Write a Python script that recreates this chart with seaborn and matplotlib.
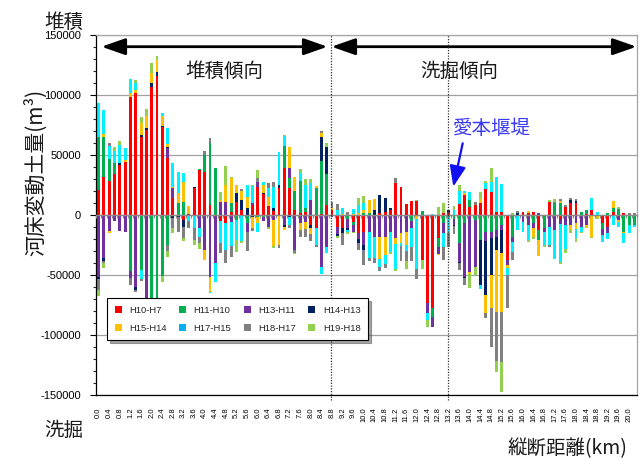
import numpy as np
import matplotlib
matplotlib.use("Agg")
import matplotlib.pyplot as plt
from matplotlib.ticker import MultipleLocator, FuncFormatter
from matplotlib.patches import Patch
import seaborn as sns

# 縦断距離 (km): 0.0 - 20.2 km every 0.2 km
km = np.round(np.arange(0, 20.21, 0.2), 1)
km_labels = [f"{v:.1f}" for v in km]

# 河床変動土量 per period (thousand m3)
h10_h7 = [20.8, 31.4, 28.3, 33.9, 41.7, 44.5, 98.7, 101.5, 64.8, 70.9,
          106.5, 116.0, 73.1, 47.8, 14.5, 0, -4.0, 0, 22.2, 37.5,
          36.0, 8.3, 0, -5.0, -7.0, 2.8, 11.1, 4.2, 0, 8.3,
          23.6, 17.5, 7.5, 3.3, 22.2, 39.5, 22.8, 4.2, 2.0, 2.8,
          -8.0, -11.0, 0.5, 8.3, 4.2, -9.7, -11.0, 0, -5.6, -15.0,
          -14.0, 0, 0, 2.0, 2.8, 4.2, 27.0, 23.6, 9.2, 12.0,
          11.5, -37.5, -73.7, -77.8, -19.5, 1.4, 2.5, 0, 8.9, 17.0,
          6.4, 8.3, 9.7, 21.4, 19.5, 2.8, 2.8, -37.5, 0, 0,
          2.8, 2.0, 2.5, -12.5, 0, 11.1, 0, -3.0, 7.0, 10.3,
          10.3, 0, 1.0, 4.2, 0, -7.0, -9.7, 2.8, 0, 2.0,
          0, 0]
h11_h10 = [43.9, 33.4, 18.0, 9.2, 0, 0, -46.4, 0, -46.0, 0,
           -78.0, -80.0, -51.0, -25.0, 0, 9.7, 11.1, 0, 0, 0.8,
           13.9, 51.4, 38.9, 0, 0, 7.0, -4.2, 0, -7.0, 0,
           -2.0, -2.0, 0, 0, 0, 18.0, 7.8, 16.1, 26.7, 3.3,
           0, 22.2, 44.5, 25.6, 0, 0, 0, -3.0, -2.8, 0,
           1.5, 1.5, 0, 0, 0, 0, 0, 0, 0, -5.0,
           0, 3.0, 0, -7.0, -7.0, -7.0, -2.0, -3.0, -23.0, -6.4,
           6.1, -4.0, -21.0, -13.9, -13.9, -12.5, -8.3, 0, -18.0, 0,
           0, 0, -7.0, -8.0, -11.1, 0, 9.7, 9.7, 0, 0,
           0, 2.8, 3.0, 0, 0, -5.0, 1.4, 2.8, 4.7, -14.0,
           -8.3, -8.3]
h13_h11 = [-51.4, -36.1, -13.0, -4.7, -13.0, -13.9, -6.4, -60.0, 0, -72.0,
           0, 0, 0, 7.8, 7.8, 0, 0, 0.6, 0, -11.0,
           -29.0, -52.0, -40.3, 11.1, 11.1, -5.5, 0, 0, -7.0, 2.0,
           4.2, -3.0, -10.0, -4.0, 0, -8.3, 8.9, -29.0, -7.0, -6.0,
           12.5, 0, -43.0, -26.4, -1.5, -6.0, 0, -8.0, -5.6, -5.0,
           -11.0, -14.0, -18.0, -18.0, -18.0, -14.0, -19.0, -15.0, -14.0, -5.5,
           0, 0, -8.3, -8.3, -5.6, -8.3, 0, -5.0, -15.8, -45.0,
           -47.3, -39.0, 0, -7.5, -5.6, -6.1, -4.2, -4.2, -4.2, 0,
           -5.6, -8.3, -4.2, 1.4, -2.8, -9.7, -12.5, -4.2, -8.3, -8.3,
           -7.0, -9.7, -8.0, 0, 0, -4.7, -5.6, 0, -4.2, 0,
           0, 0]
h14_h13 = [-2.2, -1.9, 0, 0, 1.9, 0, 0, -2.5, 1.5, 2.0,
           3.3, 3.0, 1.1, 1.4, -2.8, -2.0, -5.6, 0, 1.0, 0,
           0, 0, 0, 0, 0, 0, 7.0, 8.3, 5.6, -1.5,
           0, 1.2, 0, 2.2, 2.8, -1.5, -2.0, 0, 0, 0,
           -3.0, 0, 20.3, 22.5, 0, -1.5, -4.0, -1.5, 0, -3.0,
           -4.0, 0, 4.0, 15.0, 11.0, 1.5, 0, 0, 0, 0,
           0, 0, 0, 0, 0, 0, 1.5, -1.5, -1.4, -1.4,
           0, 0, -37.5, -45.3, -30.6, -10.6, -19.5, 0, 0, 1.5,
           0, 0, 0, 0, 0, 0, 0, 0, 0, 2.2,
           1.7, 0, 0, 0, 0, 0, 0, 0, 0, 0,
           0, 0]
h15_h14 = [0, 2.8, -2.2, 0, 0, 1.4, 2.8, 2.8, 10.0, 9.2,
           8.3, 10.3, 8.3, 2.2, 1.4, 8.3, 16.7, 7.0, 0, 0,
           -8.3, -12.0, 0, 1.4, 13.9, 20.8, 7.0, 7.8, 9.7, -9.7,
           -5.0, 6.4, 7.8, -22.0, -25.0, -2.5, 17.0, 11.7, -5.5, -6.0,
           -5.0, 2.0, 2.8, 0, 2.0, 0, 1.0, 0, 1.0, 1.5,
           2.8, 11.0, 9.0, -19.0, -15.0, 0, -5.0, -8.0, -11.0, 0,
           -3.0, 0, 0, 0, -1.4, 0, 0, 0, 0, 1.0,
           -1.9, 0, 3.3, -15.3, -27.8, -51.4, -48.5, -2.8, 0, 0,
           0, 1.2, -7.0, -14.0, 0, 0, 0, 2.2, 0, -4.0,
           -5.0, 0, -2.5, -18.0, -2.8, 0, 0, 6.4, -1.4, -1.4,
           0, 0]
h17_h15 = [28.9, 20.0, 11.1, 10.3, 14.7, 10.3, 11.7, 6.0, -7.5, 0,
           0, 0, 2.2, 13.0, 19.5, 18.0, 7.5, -5.0, -11.0, -7.0,
           0, -1.0, -15.3, -18.0, -22.0, -20.0, -17.0, -22.0, 9.7, 13.9,
           -7.0, 2.5, 7.0, 17.5, 27.8, 8.3, -6.0, 0, 6.7, 18.9,
           13.9, -14.0, -6.1, -5.6, 0, 4.0, 5.0, -2.0, 4.0, 7.0,
           5.6, -22.0, -18.0, -6.0, -8.0, -17.0, -21.0, -3.0, -5.0, -16.0,
           -42.0, 0, -5.6, 0.8, 0, -11.0, -13.0, 4.2, 11.4, 2.0,
           6.4, 0, -2.8, 5.4, 7.8, 28.6, 22.8, -5.6, -8.3, -12.5,
           -8.3, -12.5, 0, 0, -11.1, -15.3, -24.5, -32.0, -20.3, 0,
           -7.5, -4.2, 0, 9.7, 2.8, -5.6, -4.7, -8.3, -4.2, -8.3,
           -7.0, -1.4]
h18_h17 = [-8.9, -2.2, 2.8, 0, 0, 0, -5.6, -1.5, -1.5, 0,
           0, 0, 0, -5.0, -8.3, -12.0, -9.7, -6.0, -9.7, -5.0,
           3.6, 4.2, 0, -9.0, -11.0, -9.7, 0, 1.2, -16.0, -2.0,
           3.3, 0, 4.7, 4.2, -2.8, 0, -2.8, -2.5, -5.6, -6.0,
           -6.0, -1.4, 2.0, 0, 5.0, 5.0, -10.0, 2.5, 0, -6.0,
           -12.5, -2.0, -4.0, -4.0, -3.0, 0, 3.5, -12.5, -8.0, -12.0,
           -8.0, 0, 0, 0, 0, -11.0, -12.0, -6.0, -5.6, -5.6,
           0, 2.8, 0, -4.2, -32.0, -40.9, -42.0, -27.8, -7.0, 1.5,
           0, 0, 0, 0, 0, -1.5, 0.8, 1.2, 1.5, 1.4,
           1.0, 0, 0, 0, 0, 0, 0, 0, 0, 0,
           2.0, 2.0]
h19_h18 = [-4.7, -3.6, 0, 3.6, 3.6, 0, 0, 2.2, 5.5, 6.1,
           8.9, 3.3, -4.5, -5.0, -4.2, 0, -2.0, 0, -4.2, -5.5,
           0, 0, 0, 7.0, 15.8, 1.4, -9.7, -1.5, 0, 1.0,
           6.4, 0, -1.5, -1.5, 0, 1.0, 0, -1.4, 2.8, 4.7,
           3.3, 0, 0, 3.3, 0, -2.0, 0, -1.5, -1.4, 5.6,
           6.0, 0, 0, 0, 0, -1.5, -1.5, 0, -7.0, 0,
           1.2, -7.5, -5.6, 0, 7.0, 8.9, 0, 3.3, 4.7, 0,
           -12.0, -7.0, 5.8, 1.2, 11.7, -9.2, -25.0, 0, 1.5, 0,
           0, -1.5, -1.5, 0, -1.5, 1.0, 2.8, -1.5, -3.3, -2.5,
           -3.3, -1.4, 0, -1.4, -0.8, 0, 0, 0, 2.2, 0,
           0, 0]

series_names = ["H10-H7", "H11-H10", "H13-H11", "H14-H13",
                "H15-H14", "H17-H15", "H18-H17", "H19-H18"]
series_values = [h10_h7, h11_h10, h13_h11, h14_h13,
                 h15_h14, h17_h15, h18_h17, h19_h18]
bar_colors = ["#FF0000", "#00B050", "#7030A0", "#002060",
              "#FFC000", "#00F0FF", "#808080", "#92D050"]
legend_colors = ["#FF0000", "#00B050", "#7030A0", "#002060",
                 "#FFC000", "#00B0F0", "#808080", "#92D050"]

for name, v in zip(series_names, series_values):
    if len(v) != len(km):
        raise ValueError(f"{name}: {len(v)} values")

sns.set_theme(style="white")
plt.rcParams["font.family"] = ["Noto Sans CJK JP", "DejaVu Sans"]

W, H = 644, 461
fig = plt.figure(figsize=(W / 100, H / 100), dpi=100)
ax = fig.add_axes([96 / W, 66 / H, 541 / W, 360 / H])

# stacked columns: positives stack upward, negatives downward, in series order
vals = np.array(series_values) * 1000.0
pos_top = np.cumsum(np.clip(vals, 0, None), axis=0)
neg_bot = np.cumsum(np.clip(vals, None, 0), axis=0)
for k in range(len(series_names) - 1, -1, -1):
    for cum in (pos_top[k], neg_bot[k]):
        sns.barplot(x=km_labels, y=cum, order=km_labels, color=bar_colors[k],
                    width=0.55, saturation=1, errorbar=None, linewidth=0, ax=ax)

ax.set_xlim(-0.5, len(km) - 0.5)
ax.set_ylim(-150000, 150000)
ax.set_xlabel("")
ax.set_ylabel("")

# axes frame
for s in ("left", "bottom"):
    ax.spines[s].set_color("black")
    ax.spines[s].set_linewidth(0.9)
for s in ("top", "right"):
    ax.spines[s].set_color("#A6A6A6")
    ax.spines[s].set_linewidth(0.9)

ax.set_yticks(np.arange(-150000, 150001, 50000))
ax.yaxis.set_major_formatter(FuncFormatter(lambda v, p: f"{int(round(v))}"))
ax.yaxis.set_minor_locator(MultipleLocator(10000))
ax.tick_params(axis="y", which="major", direction="out", length=4, width=0.8,
               pad=7, labelsize=8, colors="black", left=True)
ax.tick_params(axis="y", which="minor", direction="out", length=2.5, width=0.8,
               left=True)
for t in ax.get_yticklabels():
    t.set_family("Liberation Sans")

ax.yaxis.grid(True, which="major", color="#A0A0A0", lw=0.9)
ax.set_axisbelow(True)

ax.set_xticks(range(0, len(km), 2))
ax.set_xticklabels(km_labels[::2], rotation=90, fontsize=5.5,
                   family="Liberation Sans")
ax.tick_params(axis="x", length=0, pad=9, colors="black")

# category axis crossing at zero
sec = ax.secondary_xaxis(0.5)
sec.set_alignment("bottom")
sec.set_xticks(np.arange(-0.5, len(km), 1.0))
sec.tick_params(axis="x", direction="out", length=2.5, width=0.8,
                color="#8C8C8C", labelbottom=False, labeltop=False)
sec.spines["bottom"].set_color("#8C8C8C")
sec.spines["bottom"].set_linewidth(1.0)
sec.set_zorder(3)

# section boundaries
for xb in (43.75, 65.9):
    ax.axvline(xb, ymin=-0.014, ymax=1, color="#333333", lw=0.9,
               ls=(0, (1, 1.2)), clip_on=False, zorder=4)

# legend in rows of four
order = [0, 4, 1, 5, 2, 6, 3, 7]
handles = [Patch(facecolor=legend_colors[i], edgecolor="none") for i in order]
labels = [series_names[i] for i in order]
leg = ax.legend(handles, labels, ncol=4, loc="upper left",
                bbox_to_anchor=(0.0203, 0.2694), borderaxespad=0,
                frameon=True, fancybox=False, edgecolor="black", framealpha=1,
                prop={"family": "Liberation Sans", "size": 6.8},
                handlelength=0.75, handleheight=0.75, handletextpad=0.8,
                columnspacing=1.3, labelspacing=0.95, borderpad=0.8,
                shadow=True)
leg.get_frame().set_linewidth(0.8)
leg.set_zorder(6)

txt = "#1A1A1A"

def px(x, y):
    return x / W, 1 - y / H

fig.text(*px(64, 22), "堆積", fontsize=14, ha="center", va="center", color=txt)
fig.text(*px(64, 430), "洗掘", fontsize=14, ha="center", va="center", color=txt)
fig.text(*px(35, 172), "河床変動土量(m³)", fontsize=15, rotation=90,
         ha="center", va="center", color=txt)
fig.text(*px(627, 449), "縦断距離(km)", fontsize=14, ha="right", va="center",
         color=txt)
fig.text(*px(224, 71), "堆積傾向", fontsize=14, ha="center", va="center", color=txt)
fig.text(*px(459, 71), "洗掘傾向", fontsize=14, ha="center", va="center", color=txt)
fig.text(*px(492, 128), "愛本堰堤", fontsize=14, ha="center", va="center",
         color="#3B3BF5")

arrow_y = H - 46.7
for x1, x2 in ((101.5, 327.5), (331.5, 636.5)):
    ax.annotate("", xy=(x2, arrow_y), xytext=(x1, arrow_y),
                xycoords="figure pixels", textcoords="figure pixels",
                arrowprops=dict(arrowstyle="<|-|>,head_length=0.8,head_width=0.28",
                                color="black", lw=2, mutation_scale=18,
                                shrinkA=0, shrinkB=0))

ax.annotate("", xy=(453.3, H - 186.7), xytext=(462.7, H - 143.3),
            xycoords="figure pixels", textcoords="figure pixels",
            arrowprops=dict(arrowstyle="-|>,head_length=0.9,head_width=0.35",
                            color="#1010F0", lw=1.6, mutation_scale=14,
                            shrinkA=0, shrinkB=0))

fig.savefig("out.png", dpi=100)
